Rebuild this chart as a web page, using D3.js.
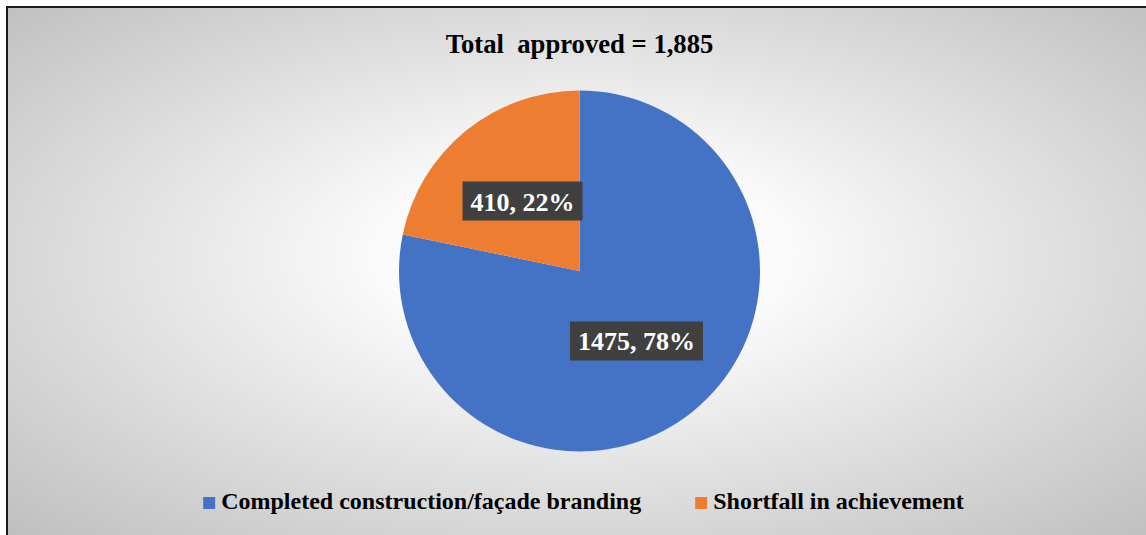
<!DOCTYPE html>
<html>
<head>
<meta charset="utf-8">
<script src="https://cdn.jsdelivr.net/npm/d3@7"></script>
<style>
  html, body { margin: 0; padding: 0; background: #ffffff; overflow: hidden; }
  svg { display: block; }
  text { font-family: "Liberation Serif", "Times New Roman", serif; font-weight: bold; }
</style>
</head>
<body>
<svg id="chart" width="1146" height="535"></svg>
<script>
const categories = ["Completed construction/façade branding", "Shortfall in achievement"];
const values = [1475, 410];
const colors = ["#4472C4", "#ED7D31"];
const titleText = "Total  approved = 1,885";

const svg = d3.select("#chart");
const W = 1146, H = 535;

// background gradient
const defs = svg.append("defs");
const grad = defs.append("radialGradient")
  .attr("id", "bg").attr("cx", "0.5").attr("cy", "0.48").attr("r", "0.72").attr("fx", "0.5").attr("fy", "0.45");
grad.append("stop").attr("offset", "0").attr("stop-color", "#ffffff");
grad.append("stop").attr("offset", "0.25").attr("stop-color", "#fafafa");
grad.append("stop").attr("offset", "1").attr("stop-color", "#bdbdbd");

svg.append("rect")
  .attr("x", 7).attr("y", 7).attr("width", 1152).attr("height", 542)
  .attr("fill", "url(#bg)")
  .attr("stroke", "#1a1a1a").attr("stroke-width", 2);

// title
svg.append("text")
  .attr("x", 579.5).attr("y", 53)
  .attr("text-anchor", "middle")
  .attr("font-size", "26.67px")
  .attr("fill", "#000")
  .style("white-space", "pre")
  .attr("xml:space", "preserve")
  .text(titleText);

// pie
const cx = 579.5, cy = 271, R = 180.5;
const total = d3.sum(values);
const pie = d3.pie().sort(null).value(d => d)(values);
const arc = d3.arc().innerRadius(0).outerRadius(R);
const g = svg.append("g").attr("transform", `translate(${cx},${cy})`);

g.selectAll("path.slice").data(pie).join("path")
  .attr("class", "slice")
  .attr("d", arc)
  .attr("fill", (d, i) => colors[i]);

// labels
const fmtPct = v => Math.round(v / total * 100) + "%";
const labels = g.selectAll("g.lbl").data(pie).join("g")
  .attr("class", "lbl")
  .attr("transform", d => `translate(${arc.centroid(d)})`);
labels.each(function(d) {
  const lg = d3.select(this);
  const t = lg.append("text")
    .attr("text-anchor", "middle")
    .attr("y", 9.5)
    .attr("font-size", "26px")
    .attr("fill", "#ffffff")
    .text(`${d.data}, ${fmtPct(d.data)}`);
  const w = t.node().getComputedTextLength();
  lg.insert("rect", "text")
    .attr("x", -w / 2 - 8).attr("y", -19.5)
    .attr("width", w + 16).attr("height", 39)
    .attr("fill", "#404040");
});

// legend
const legend = svg.append("g");
const items = legend.selectAll("g.item").data(categories).join("g").attr("class", "item");
items.append("rect").attr("width", 12).attr("height", 12).attr("y", -12)
  .attr("fill", (d, i) => colors[i]);
items.append("text").attr("x", 18).attr("y", 0)
  .attr("font-size", "24px").attr("fill", "#000").text(d => d);
let xpos = 0;
const gap = 54;
items.each(function() {
  const it = d3.select(this);
  const tw = it.select("text").node().getComputedTextLength();
  it.attr("transform", `translate(${xpos},0)`);
  xpos += 18 + tw + gap;
});
const legendW = xpos - gap;
legend.attr("transform", `translate(${583.5 - legendW / 2},509)`);
</script>
</body>
</html>
